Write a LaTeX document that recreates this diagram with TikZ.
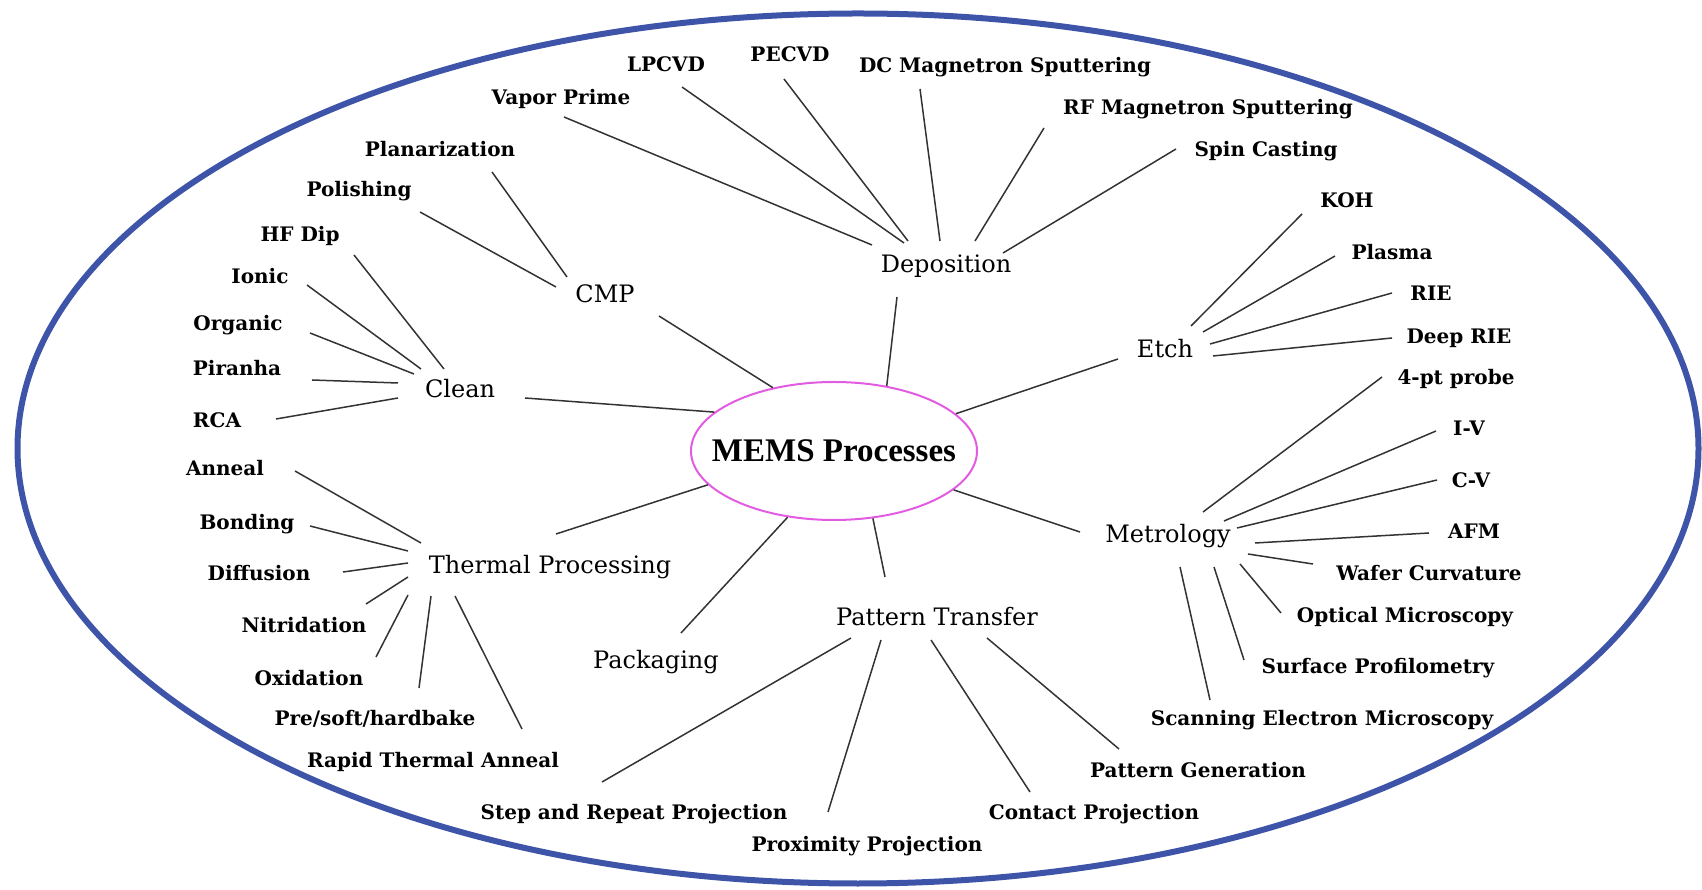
\documentclass[tikz,border=0pt]{standalone}
\usepackage{fontspec}
\setmainfont{DejaVu Serif}
\newfontfamily\titlefont{Liberation Serif}
\usetikzlibrary{shapes.geometric}

\definecolor{rimblue}{RGB}{62,84,168}
\definecolor{hubpink}{RGB}{226,92,226}

\tikzset{
  subnode/.style={font=\bfseries\fontsize{20}{22}\selectfont, inner sep=4pt, text height=15pt, text depth=4pt},
  procnode/.style={font=\fontsize{24}{27}\selectfont, inner sep=6pt, text height=18pt, text depth=5pt},
  spoke/.style={line width=1.5pt, black!80},
}

\begin{document}
\begin{tikzpicture}[x=1pt, y=1pt]
    \useasboundingbox (0,0) rectangle (1702,889);
    % outer rim
    \draw[rimblue, line width=6pt] (858,440.5) ellipse (840.5 and 435);

    % hub
    \node[draw=hubpink, line width=2pt, ellipse, minimum width=286pt, minimum height=138pt, inner sep=0pt,
          font=\titlefont\bfseries\fontsize{33}{36}\selectfont] (mems) at (834,438) {\makebox[0pt]{MEMS Processes}};

    % process groups
    \node[procnode] (dep) at (946,623) {Deposition};
    \node[procnode] (cmp) at (605,593) {CMP};
    \node[procnode] (clean) at (460,498) {Clean};
    \node[procnode] (etch) at (1165,538) {Etch};
    \node[procnode] (metro) at (1168,353) {Metrology};
    \node[procnode] (thermal) at (550,322) {Thermal Processing};
    \node[procnode] (ptrans) at (937,270) {Pattern Transfer};
    \node[procnode] (pack) at (656,227) {Packaging};

    % deposition
    \node[subnode] (vapor) at (561,790) {Vapor Prime};
    \node[subnode] (lpcvd) at (666,823) {LPCVD};
    \node[subnode] (pecvd) at (790,833) {PECVD};
    \node[subnode] (dcms) at (1005,822) {DC Magnetron Sputtering};
    \node[subnode] (rfms) at (1208,780) {RF Magnetron Sputtering};
    \node[subnode] (spin) at (1266,738) {Spin Casting};
    \draw[spoke] ([shift={(3,-18)}]vapor.center) -- ([shift={(-74,21)}]dep.center);
    \draw[spoke] ([shift={(16,-21)}]lpcvd.center) -- ([shift={(-42,23)}]dep.center);
    \draw[spoke] ([shift={(-6,-23)}]pecvd.center) -- ([shift={(-38,25)}]dep.center);
    \draw[spoke] ([shift={(-85,-22)}]dcms.center) -- ([shift={(-6,25)}]dep.center);
    \draw[spoke] ([shift={(-164,-19)}]rfms.center) -- ([shift={(29,25)}]dep.center);
    \draw[spoke] ([shift={(-90,2)}]spin.center) -- ([shift={(57,13)}]dep.center);
    \draw[spoke] ([shift={(-49,-31)}]dep.center) -- (mems.51);

    % cmp
    \node[subnode] (planar) at (440,738) {Planarization};
    \node[subnode] (polish) at (359,698) {Polishing};
    \draw[spoke] ([shift={(52,-21)}]planar.center) -- ([shift={(-38,19)}]cmp.center);
    \draw[spoke] ([shift={(61,-21)}]polish.center) -- ([shift={(-49,9)}]cmp.center);
    \draw[spoke] ([shift={(54,-20)}]cmp.center) -- (mems.134);

    % clean
    \node[subnode] (hfdip) at (300,653) {HF Dip};
    \node[subnode] (ionic) at (260,611) {Ionic};
    \node[subnode] (organic) at (238,564) {Organic};
    \node[subnode] (piranha) at (237,519) {Piranha};
    \node[subnode] (rca) at (217,467) {RCA};
    \draw[spoke] ([shift={(54,-19)}]hfdip.center) -- ([shift={(-16,22)}]clean.center);
    \draw[spoke] ([shift={(47,-7)}]ionic.center) -- ([shift={(-39,22)}]clean.center);
    \draw[spoke] ([shift={(72,-8)}]organic.center) -- ([shift={(-46,17)}]clean.center);
    \draw[spoke] ([shift={(75,-10)}]piranha.center) -- ([shift={(-62,8)}]clean.center);
    \draw[spoke] ([shift={(59,3)}]rca.center) -- ([shift={(-62,-7)}]clean.center);
    \draw[spoke] ([shift={(65,-7)}]clean.center) -- (mems.162);

    % thermal processing
    \node[subnode] (anneal) at (225,419) {Anneal};
    \node[subnode] (bonding) at (247,365) {Bonding};
    \node[subnode] (diffusion) at (259,314) {Diffusion};
    \node[subnode] (nitrid) at (304,262) {Nitridation};
    \node[subnode] (oxid) at (309,209) {Oxidation};
    \node[subnode] (bake) at (375,169) {Pre/soft/hardbake};
    \node[subnode] (rta) at (433,127) {Rapid Thermal Anneal};
    \draw[spoke] ([shift={(70,-1)}]anneal.center) -- ([shift={(-129,24)}]thermal.center);
    \draw[spoke] ([shift={(63,-2)}]bonding.center) -- ([shift={(-142,16)}]thermal.center);
    \draw[spoke] ([shift={(84,3)}]diffusion.center) -- ([shift={(-142,4)}]thermal.center);
    \draw[spoke] ([shift={(62,23)}]nitrid.center) -- ([shift={(-142,-10)}]thermal.center);
    \draw[spoke] ([shift={(67,23)}]oxid.center) -- ([shift={(-142,-28)}]thermal.center);
    \draw[spoke] ([shift={(44,32)}]bake.center) -- ([shift={(-119,-29)}]thermal.center);
    \draw[spoke] ([shift={(89,33)}]rta.center) -- ([shift={(-95,-29)}]thermal.center);
    \draw[spoke] ([shift={(6,33)}]thermal.center) -- (mems.195);

    % packaging
    \draw[spoke] ([shift={(25,29)}]pack.center) -- (mems.235);

    % pattern transfer
    \node[subnode] (steprep) at (634,75) {Step and Repeat Projection};
    \node[subnode] (proxim) at (867,43) {Proximity Projection};
    \node[subnode] (contact) at (1094,75) {Contact Projection};
    \node[subnode] (patgen) at (1198,117) {Pattern Generation};
    \draw[spoke] ([shift={(-52,42)}]ptrans.center) -- (mems.300);
    \draw[spoke] ([shift={(-32,32)}]steprep.center) -- ([shift={(-86,-19)}]ptrans.center);
    \draw[spoke] ([shift={(-39,34)}]proxim.center) -- ([shift={(-56,-21)}]ptrans.center);
    \draw[spoke] ([shift={(-64,22)}]contact.center) -- ([shift={(-6,-21)}]ptrans.center);
    \draw[spoke] ([shift={(-79,23)}]patgen.center) -- ([shift={(50,-19)}]ptrans.center);

    % etch
    \node[subnode] (koh) at (1347,687) {KOH};
    \node[subnode] (plasma) at (1392,635) {Plasma};
    \node[subnode] (rie) at (1431,594) {RIE};
    \node[subnode] (drie) at (1459,551) {Deep RIE};
    \draw[spoke] ([shift={(-47,-8)}]etch.center) -- (mems.17);
    \draw[spoke] ([shift={(-45,-12)}]koh.center) -- ([shift={(26,25)}]etch.center);
    \draw[spoke] ([shift={(-57,-2)}]plasma.center) -- ([shift={(38,19)}]etch.center);
    \draw[spoke] ([shift={(-39,2)}]rie.center) -- ([shift={(45,7)}]etch.center);
    \draw[spoke] ([shift={(-67,0)}]drie.center) -- ([shift={(48,-5)}]etch.center);

    % metrology
    \node[subnode] (probe) at (1456,510) {4-pt probe};
    \node[subnode] (iv) at (1469,459) {I-V};
    \node[subnode] (cv) at (1471,407) {C-V};
    \node[subnode] (afm) at (1474,356) {AFM};
    \node[subnode] (wafer) at (1429,314) {Wafer Curvature};
    \node[subnode] (optical) at (1405,272) {Optical Microscopy};
    \node[subnode] (surface) at (1378,221) {Surface Profilometry};
    \node[subnode] (sem) at (1322,169) {Scanning Electron Microscopy};
    \draw[spoke] (mems.342) -- ([shift={(-88,4)}]metro.center);
    \draw[spoke] ([shift={(-74,2)}]probe.center) -- ([shift={(35,24)}]metro.center);
    \draw[spoke] ([shift={(-33,-1)}]iv.center) -- ([shift={(56,15)}]metro.center);
    \draw[spoke] ([shift={(-34,2)}]cv.center) -- ([shift={(69,8)}]metro.center);
    \draw[spoke] ([shift={(-45,0)}]afm.center) -- ([shift={(87,-7)}]metro.center);
    \draw[spoke] ([shift={(-116,11)}]wafer.center) -- ([shift={(80,-18)}]metro.center);
    \draw[spoke] ([shift={(-124,4)}]optical.center) -- ([shift={(72,-28)}]metro.center);
    \draw[spoke] ([shift={(-134,8)}]surface.center) -- ([shift={(46,-31)}]metro.center);
    \draw[spoke] ([shift={(-112,20)}]sem.center) -- ([shift={(12,-31)}]metro.center);
\end{tikzpicture}
\end{document}
